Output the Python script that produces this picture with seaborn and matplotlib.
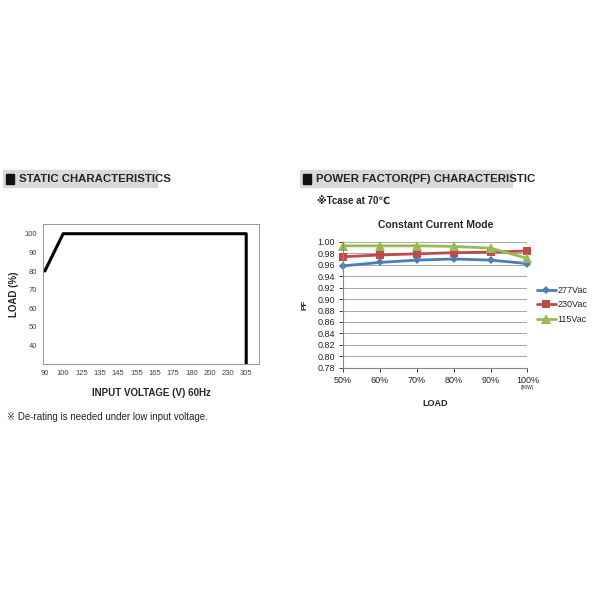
import matplotlib
matplotlib.use("Agg")
import matplotlib.pyplot as plt
import seaborn as sns
import pandas as pd
from matplotlib.patches import Rectangle

sns.set_style("white")
plt.rcParams['font.family'] = ['Liberation Sans', 'DejaVu Sans']

volt_labels = ["90", "100", "125", "135", "145", "155", "165", "175", "180", "200", "230", "305"]
derate_idx = [0, 1, 11, 11]
derate_load = [80, 100, 100, 30]

load_labels = ["50%", "60%", "70%", "80%", "90%", "100%"]
pf_277 = [0.958, 0.964, 0.968, 0.970, 0.968, 0.962]
pf_230 = [0.974, 0.977, 0.979, 0.981, 0.982, 0.984]
pf_115 = [0.993, 0.993, 0.993, 0.992, 0.989, 0.971]

fig = plt.figure(figsize=(6, 6), dpi=100)

# headers
for (x0, w, txt) in [(0.005, 0.257, "STATIC CHARACTERISTICS"), (0.50, 0.353, "POWER FACTOR(PF) CHARACTERISTIC")]:
    fig.patches.append(Rectangle((x0, 0.688), w, 0.028, transform=fig.transFigure, color="#d9d9d9", zorder=0))
    fig.patches.append(Rectangle((x0 + 0.005, 0.694), 0.014, 0.016, transform=fig.transFigure, color="#111111", zorder=1))
    fig.text(x0 + 0.027, 0.702, txt, fontsize=8.2, fontweight="bold", va="center", ha="left")

# left chart
ax1 = fig.add_axes([0.0717, 0.393, 0.36, 0.233])
sns.lineplot(x=derate_idx, y=derate_load, ax=ax1, color="black", lw=2.2, sort=False, estimator=None)
ax1.set_xlim(-0.1, 11.7)
ax1.set_ylim(30, 105)
ax1.set_xticks(range(len(volt_labels)))
ax1.set_xticklabels(volt_labels, fontsize=5.5, color="#444444")
ax1.set_yticks([40, 50, 60, 70, 80, 90, 100])
ax1.set_yticklabels(["40", "50", "60", "70", "80", "90", "100"], fontsize=5.5, color="#444444")
ax1.tick_params(length=2, width=0.5, pad=2)
for s in ax1.spines.values():
    s.set_linewidth(0.6)
    s.set_color("#888888")
ax1.set_xlabel("INPUT VOLTAGE (V) 60Hz", fontsize=7, fontweight="bold", labelpad=8)
ax1.set_ylabel("LOAD (%)", fontsize=7, fontweight="bold", labelpad=4)
fig.text(0.012, 0.305, "※ De-rating is needed under low input voltage.", fontsize=7, va="center")

# right chart
fig.text(0.528, 0.665, "※Tcase at 70℃", fontsize=7, fontweight="bold", va="center",
         family=['Liberation Sans', 'DejaVu Sans'])
ax2 = fig.add_axes([0.572, 0.387, 0.307, 0.21])
x = list(range(len(load_labels)))
df = pd.DataFrame({"x": x * 3, "pf": pf_277 + pf_230 + pf_115,
                   "s": ["277Vac"] * 6 + ["230Vac"] * 6 + ["115Vac"] * 6})
palette = {"277Vac": "#4a7ebb", "230Vac": "#be4b48", "115Vac": "#98b954"}
markers = {"277Vac": "D", "230Vac": "s", "115Vac": "^"}
sizes = {"277Vac": 4, "230Vac": 6, "115Vac": 7}
for s in ["277Vac", "230Vac", "115Vac"]:
    d = df[df.s == s]
    sns.lineplot(data=d, x="x", y="pf", ax=ax2, color=palette[s], lw=2, marker=markers[s],
                 markersize=sizes[s], markeredgewidth=0, label=s, clip_on=False, estimator=None)
ax2.set_xlim(0, 5)
ax2.set_ylim(0.78, 1.0)
yt = [0.78 + 0.02 * i for i in range(12)]
ax2.set_yticks(yt)
ax2.set_yticklabels([f"{v:.2f}" for v in yt], fontsize=6.5)
ax2.set_xticks(x)
ax2.set_xticklabels(load_labels, fontsize=6.5)
ax2.yaxis.grid(True, color="#999999", lw=0.6)
ax2.set_axisbelow(True)
for k in ["top", "right"]:
    ax2.spines[k].set_visible(False)
for k in ["left", "bottom"]:
    ax2.spines[k].set_color("#888888")
    ax2.spines[k].set_linewidth(0.8)
ax2.tick_params(axis="both", length=3, width=0.6, pad=3, direction="out", left=True, bottom=True)
ax2.set_title("Constant Current Mode", fontsize=7.5, fontweight="bold", pad=10)
ax2.set_xlabel("LOAD", fontsize=6.5, fontweight="bold", labelpad=10)
ax2.set_ylabel("PF", fontsize=6, fontweight="bold", labelpad=6)
ax2.text(5, 0.750, "(80W)", fontsize=3.5, ha="center", va="top")
ax2.legend(loc="center left", bbox_to_anchor=(1.03, 0.5), frameon=False, fontsize=6.5,
           handlelength=2.2, labelspacing=0.6, borderaxespad=0, handletextpad=0.1)

fig.savefig("out.png", dpi=100)
